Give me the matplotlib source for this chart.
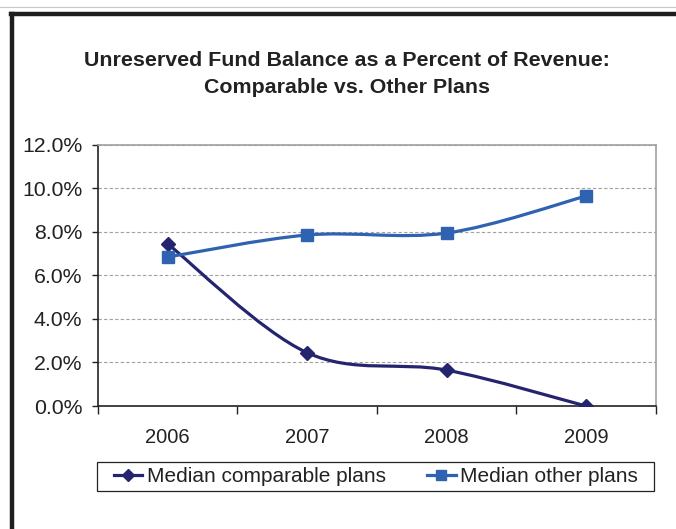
import matplotlib
matplotlib.use('Agg')
import matplotlib.pyplot as plt
import numpy as np
from matplotlib.path import Path
from matplotlib.patches import PathPatch, Rectangle
from matplotlib.lines import Line2D
from matplotlib.ticker import FuncFormatter, FixedLocator

plt.rcParams['font.family'] = ['Liberation Sans', 'DejaVu Sans']

years = ['2006', '2007', '2008', '2009']
comparable = [7.45, 2.45, 1.65, 0.0]
other = [6.85, 7.86, 7.95, 9.65]

c_comp = '#25256f'
c_other = '#2f63b1'


def smooth_path(xs, ys):
    # excel-like smoothed line: catmull-rom as cubic bezier segments
    pts = np.column_stack([xs, ys]).astype(float)
    ext = np.vstack([pts[0], pts, pts[-1]])
    verts = [tuple(pts[0])]
    codes = [Path.MOVETO]
    for i in range(len(pts) - 1):
        p0, p1, p2, p3 = ext[i], ext[i + 1], ext[i + 2], ext[i + 3]
        c1 = p1 + (p2 - p0) / 6.0
        c2 = p2 - (p3 - p1) / 6.0
        verts += [tuple(c1), tuple(c2), tuple(p2)]
        codes += [Path.CURVE4] * 3
    return Path(verts, codes)


fig = plt.figure(figsize=(6.76, 5.29), dpi=100)
ax = fig.add_axes([0.145, 0.2325, 0.825, 0.4935])

x = np.arange(len(years))
for vals, col, mk, ms in [(comparable, c_comp, 'D', 7.5), (other, c_other, 's', 8.5)]:
    ax.add_patch(PathPatch(smooth_path(x, vals), facecolor='none', edgecolor=col,
                           lw=2.3, zorder=3, capstyle='round'))
    ax.plot(x, vals, linestyle='none', marker=mk, ms=ms, color=col, zorder=4)

ax.set_xlim(-0.5, 3.5)
ax.set_ylim(0, 12)
ax.set_yticks(np.arange(0, 12.1, 2))
ax.yaxis.set_major_formatter(FuncFormatter(lambda v, p: '%.1f%%' % v))
ax.set_xticks(x)
ax.set_xticklabels(years)
ax.xaxis.set_minor_locator(FixedLocator([-0.5, 0.5, 1.5, 2.5, 3.5]))
ax.tick_params(axis='x', which='major', length=0, pad=16, labelsize=14.5, labelcolor='#222222')
ax.tick_params(axis='x', which='minor', length=6, width=1, direction='out', color='#222222')
ax.tick_params(axis='y', length=4.3, width=1, direction='out', pad=7, labelsize=15.3,
               labelcolor='#222222', color='#222222')

ax.grid(True, axis='y', linestyle=(0, (3, 2)), color='#a0a0a0', lw=0.8)
ax.set_axisbelow(True)
for s in ['top', 'right']:
    ax.spines[s].set_color('#a0a0a0')
    ax.spines[s].set_linewidth(1.2)
for s in ['left', 'bottom']:
    ax.spines[s].set_color('#222222')
    ax.spines[s].set_linewidth(1.2)

fig.text(0.513, 0.860, 'Unreserved Fund Balance as a Percent of Revenue:\nComparable vs. Other Plans',
         ha='center', va='center', fontsize=15.4, fontweight='bold', color='#222222',
         linespacing=1.5)

handles = [Line2D([], [], color=c_comp, lw=2.3, marker='D', ms=6.5),
           Line2D([], [], color=c_other, lw=2.3, marker='s', ms=7)]
leg = fig.legend(handles, ['Median comparable plans', 'Median other plans'],
                 loc='center', bbox_to_anchor=(376 / 676, 1 - 476.5 / 529),
                 ncol=2, fontsize=15, frameon=False,
                 handlelength=1.35, handletextpad=0.22, columnspacing=2.0,
                 borderpad=0, borderaxespad=0)
for t in leg.get_texts():
    t.set_color('#222222')

# legend box
fig.add_artist(Rectangle((97 / 676, 1 - 491 / 529), 557 / 676, 29 / 529,
                         transform=fig.transFigure, facecolor='none',
                         edgecolor='#222222', lw=0.9))

# outer frame of the chart
fig.add_artist(Line2D([12 / 676, 12 / 676], [1 - 14 / 529, -0.01], transform=fig.transFigure,
                      color='#1e1e1e', lw=3.2))
fig.add_artist(Line2D([10.5 / 676, 1.01], [1 - 14 / 529, 1 - 14 / 529], transform=fig.transFigure,
                      color='#1e1e1e', lw=3.2))
fig.add_artist(Line2D([0, 1], [1 - 7 / 529, 1 - 7 / 529], transform=fig.transFigure,
                      color='#c8c8c8', lw=0.8))

fig.savefig('out.png', dpi=100)
